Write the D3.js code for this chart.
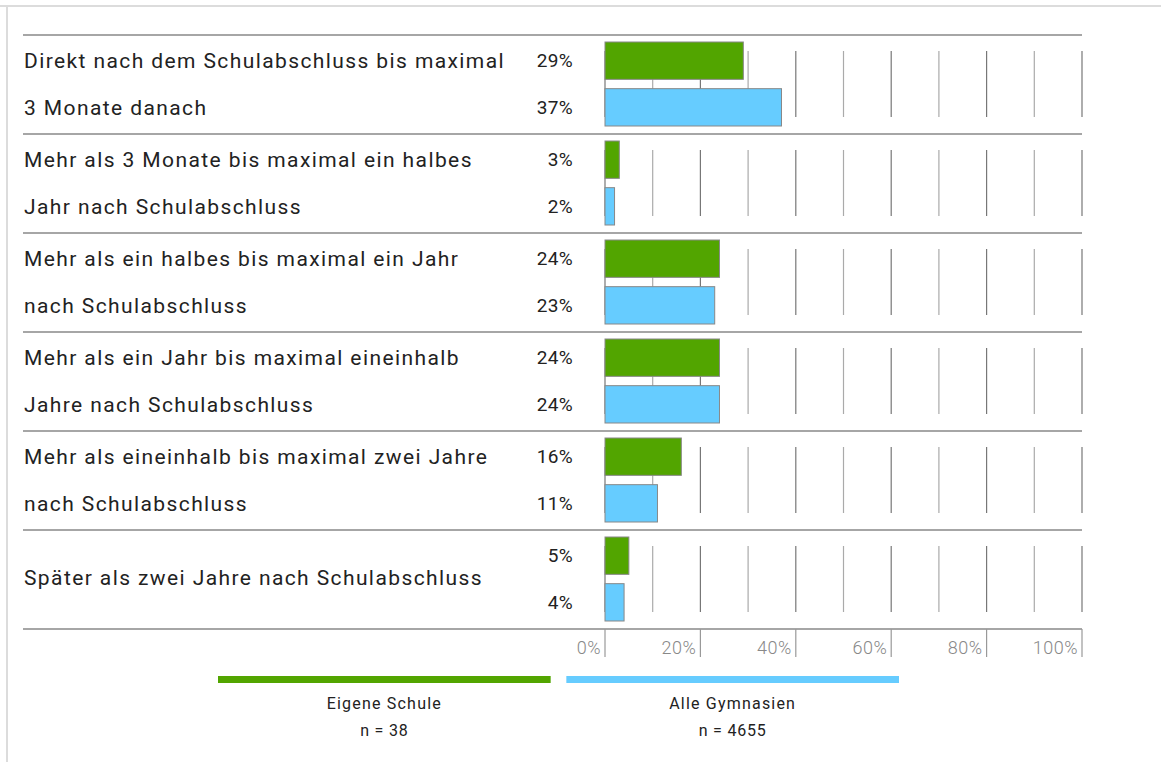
<!DOCTYPE html>
<html>
<head>
<meta charset="utf-8">
<script src="https://cdn.jsdelivr.net/npm/d3@7"></script>
<style>
  body { margin: 0; background: #fff; }
  svg { display: block; font-family: Roboto, "Open Sans", sans-serif; }
</style>
</head>
<body>
<svg id="chart"></svg>
<script>
let width = 1161;
let height = 762;

let categories = [
  ["Direkt nach dem Schulabschluss bis maximal", "3 Monate danach"],
  ["Mehr als 3 Monate bis maximal ein halbes", "Jahr nach Schulabschluss"],
  ["Mehr als ein halbes bis maximal ein Jahr", "nach Schulabschluss"],
  ["Mehr als ein Jahr bis maximal eineinhalb", "Jahre nach Schulabschluss"],
  ["Mehr als eineinhalb bis maximal zwei Jahre", "nach Schulabschluss"],
  ["Später als zwei Jahre nach Schulabschluss"]
];
let eigeneSchule = [29, 3, 24, 24, 16, 5];
let alleGymnasien = [37, 2, 23, 24, 11, 4];
let seriesNames = ["Eigene Schule", "Alle Gymnasien"];
let seriesN = ["n = 38", "n = 4655"];
let colors = ["#52a500", "#66ccff"];
let tickValues = [0, 20, 40, 60, 80, 100];
let gridValues = d3.range(0, 101, 10);

const svg = d3.select('#chart')
  .attr('width', width)
  .attr('height', height);

// frame
svg.append('line').attr('x1', 0).attr('x2', width).attr('y1', 6).attr('y2', 6)
  .attr('stroke', '#dcdcdc').attr('stroke-width', 2);
svg.append('line').attr('x1', 7).attr('x2', 7).attr('y1', 6).attr('y2', height)
  .attr('stroke', '#dcdcdc').attr('stroke-width', 2);

let xScale = d3.scaleLinear().domain([0, 100]).range([605, 1082]);
let yScale = d3.scaleBand().domain(d3.range(categories.length)).range([35, 629]);
let inner = d3.scaleBand().domain([0, 1]).range([7, 91]).paddingInner(0.2);

let rows = svg.selectAll('g.row')
  .data(categories)
  .enter()
  .append('g')
    .attr('class', 'row')
    .attr('transform', (d, i) => `translate(0,${yScale(i)})`);

// grid lines inside each row
rows.selectAll('line.grid')
  .data(gridValues)
  .enter()
  .append('line')
    .attr('x1', d => xScale(d))
    .attr('x2', d => xScale(d))
    .attr('y1', 16)
    .attr('y2', 82)
    .attr('stroke', (d, i) => i % 2 ? '#aaa' : '#777')
    .attr('stroke-width', 1.2);

// bars
rows.each(function(d, i) {
  let vals = [eigeneSchule[i], alleGymnasien[i]];
  let g = d3.select(this);
  g.selectAll('rect')
    .data(vals)
    .enter()
    .append('rect')
      .attr('x', xScale(0))
      .attr('y', (v, j) => inner(j))
      .attr('width', v => xScale(v) - xScale(0))
      .attr('height', inner.bandwidth())
      .attr('fill', (v, j) => colors[j])
      .attr('stroke', '#888')
      .attr('stroke-width', 1);
  g.selectAll('text.val')
    .data(vals)
    .enter()
    .append('text')
      .attr('class', 'val')
      .attr('x', 573)
      .attr('y', (v, j) => inner(j) + inner.bandwidth() / 2)
      .attr('dy', '0.35em')
      .attr('text-anchor', 'end')
      .attr('font-size', 19)
      .attr('letter-spacing', 0.3)
      .attr('fill', '#222')
      .text(v => v + '%');
  let lines = d;
  let mid = yScale.bandwidth() / 2;
  g.selectAll('text.cat')
    .data(lines)
    .enter()
    .append('text')
      .attr('class', 'cat')
      .attr('x', 24)
      .attr('y', (t, k) => lines.length === 1 ? mid - 2 : inner(k) + inner.bandwidth() / 2)
      .attr('dy', '0.35em')
      .attr('font-size', 21)
      .attr('letter-spacing', 1.4)
      .attr('fill', '#222')
      .text(t => t);
});

// row separators
svg.selectAll('line.sep')
  .data(d3.range(categories.length + 1))
  .enter()
  .append('line')
    .attr('x1', 23)
    .attr('x2', 1082)
    .attr('y1', i => i < categories.length ? yScale(i) : 629)
    .attr('y2', i => i < categories.length ? yScale(i) : 629)
    .attr('stroke', '#888')
    .attr('stroke-width', 1.5);

// axis
let axis = svg.append('g');
axis.selectAll('line')
  .data(tickValues)
  .enter()
  .append('line')
    .attr('x1', d => xScale(d))
    .attr('x2', d => xScale(d))
    .attr('y1', 629)
    .attr('y2', 657)
    .attr('stroke', '#999')
    .attr('stroke-width', 1.2);
axis.selectAll('text')
  .data(tickValues)
  .enter()
  .append('text')
    .attr('x', d => xScale(d) - 4)
    .attr('y', 648)
    .attr('dy', '0.35em')
    .attr('text-anchor', 'end')
    .attr('font-size', 18)
    .attr('font-weight', 300)
    .attr('letter-spacing', 0.5)
    .attr('fill', '#888')
    .text(d => d + '%');

// legend
let legendX = d3.scaleBand().domain([0, 1]).range([218, 899]).paddingInner(0.045);
let legend = svg.selectAll('g.legend')
  .data(seriesNames)
  .enter()
  .append('g')
    .attr('class', 'legend')
    .attr('transform', (d, i) => `translate(${legendX(i)},0)`);
legend.append('rect')
  .attr('x', 0)
  .attr('y', 676)
  .attr('width', legendX.bandwidth())
  .attr('height', 7)
  .attr('fill', (d, i) => colors[i]);
legend.append('text')
  .attr('x', legendX.bandwidth() / 2)
  .attr('y', 703)
  .attr('dy', '0.35em')
  .attr('text-anchor', 'middle')
  .attr('font-size', 16)
  .attr('letter-spacing', 1.2)
  .attr('fill', '#222')
  .text(d => d);
legend.append('text')
  .attr('x', legendX.bandwidth() / 2)
  .attr('y', 730)
  .attr('dy', '0.35em')
  .attr('text-anchor', 'middle')
  .attr('font-size', 16)
  .attr('letter-spacing', 0.8)
  .attr('fill', '#222')
  .text((d, i) => seriesN[i]);
</script>
</body>
</html>
